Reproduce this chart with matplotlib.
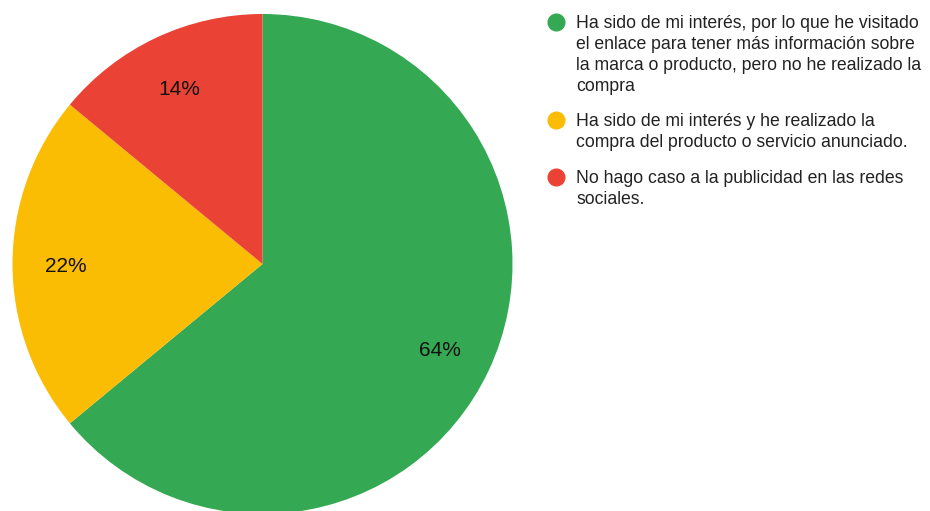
import matplotlib.pyplot as plt
from matplotlib.lines import Line2D

plt.rcParams["font.family"] = ["Liberation Sans", "DejaVu Sans"]

# Respuestas a la pregunta sobre publicidad en redes sociales
labels = [
    "Ha sido de mi interés, por lo que he visitado\nel enlace para tener más información sobre\nla marca o producto, pero no he realizado la\ncompra",
    "Ha sido de mi interés y he realizado la\ncompra del producto o servicio anunciado.",
    "No hago caso a la publicidad en las redes\nsociales.",
]
shares = [64, 22, 14]
colors = ["#34A853", "#FBBC04", "#EA4335"]

W, H = 930, 511
fig = plt.figure(figsize=(W / 100, H / 100), dpi=100)

# pie area in pixel coordinates
ax = fig.add_axes([12 / W, -3 / H, 501 / W, 500 / H])
wedges, texts, pcts = ax.pie(
    shares,
    colors=colors,
    startangle=90,
    counterclock=False,
    radius=1.0,
    autopct="%d%%",
    pctdistance=0.785,
    wedgeprops={"linewidth": 0},
    textprops={"fontsize": 15, "color": "#111111"},
)
# nudge the percentage labels slightly downward
for t in pcts:
    x, y = t.get_position()
    t.set_position((x, y - 0.012))
ax.set_xlim(-1, 1)
ax.set_ylim(-1, 1)
ax.set_aspect("equal")
ax.axis("off")

# legend drawn by hand: coloured dots with wrapped text
item_tops = [15, 113, 170]
for top, text, col in zip(item_tops, labels, colors):
    fig.add_artist(Line2D([556 / W], [1 - (top + 7) / H], marker="o",
                          markersize=12, color=col, linestyle="none",
                          transform=fig.transFigure))
    fig.text(576 / W, 1 - top / H, text, ha="left", va="top",
             fontsize=12.7, color="#222222", linespacing=1.3)

fig.savefig("out.png", dpi=100)
